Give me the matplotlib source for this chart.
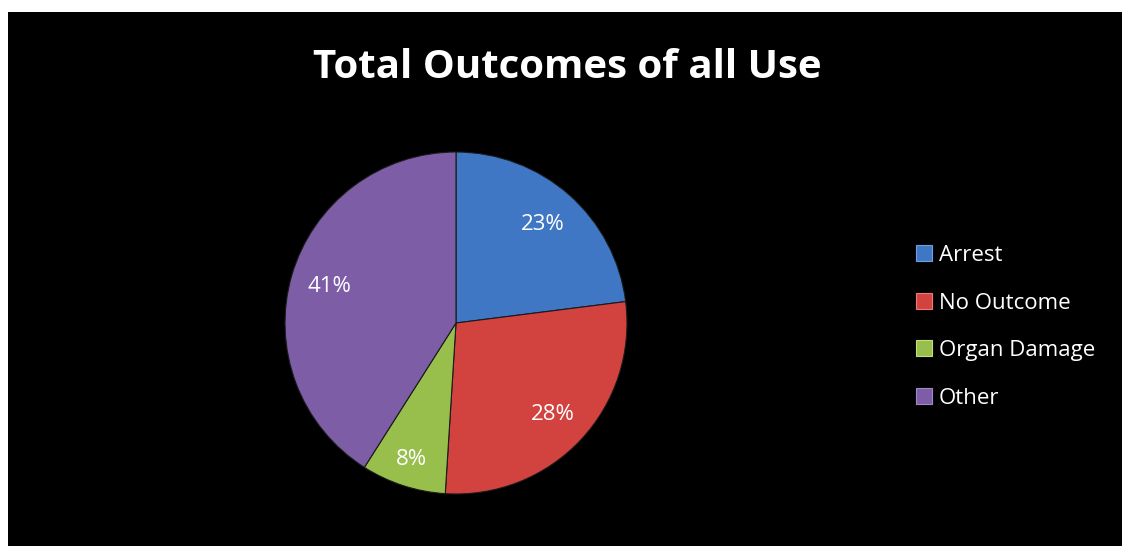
import matplotlib
matplotlib.use("Agg")
import numpy as np
import matplotlib.pyplot as plt
from matplotlib.lines import Line2D

categories = ["Arrest", "No Outcome", "Organ Damage", "Other"]
values = [23, 28, 8, 41]
colors = ["#3F77C4", "#D2433F", "#98BE4C", "#7C5DA6"]
edge_light = ["#6FA0E0", "#F07A74", "#C2E07E", "#A48AC8"]
label_dist = [0.77, 0.78, 0.84, 0.77]

W, H, DPI = 1122, 546, 100
fig = plt.figure(figsize=(W / DPI, H / DPI), dpi=DPI, facecolor="white")

# black chart area
bg = fig.add_axes([8 / W, 0, 1 - 8 / W, (H - 12) / H])
bg.set_facecolor("black")
bg.set_xticks([]); bg.set_yticks([])
for s in bg.spines.values():
    s.set_visible(False)

font = "Open Sans"
fig.text(567 / W, 1 - 67 / H, "Total Outcomes of all Use", color="white",
         fontsize=29, fontweight="bold", family=font, ha="center", va="center")

cx, cy, r = 456, 323, 171
ax = fig.add_axes([(cx - r) / W, (H - cy - r) / H, 2 * r / W, 2 * r / H])
ax.set_facecolor("none")
wedges, texts, autotexts = ax.pie(
    values, colors=colors, startangle=90, counterclock=False,
    autopct=lambda p: f"{p:.0f}%", pctdistance=0.78,
    wedgeprops=dict(edgecolor="#1a1a1a", linewidth=0.8),
    textprops=dict(color="white", fontsize=16, family=font))
for w, t, d in zip(wedges, autotexts, label_dist):
    ang = np.deg2rad((w.theta1 + w.theta2) / 2)
    t.set_position((d * np.cos(ang), d * np.sin(ang)))
ax.set_xlim(-1, 1)
ax.set_ylim(-1, 1)
ax.set_aspect("equal")

handles = [Line2D([0], [0], marker="s", linestyle="none", markersize=11,
                  markerfacecolor=c, markeredgecolor=lc, markeredgewidth=0.8)
           for c, lc in zip(colors, edge_light)]
leg = fig.legend(handles, categories, loc="upper left",
                 bbox_to_anchor=(902 / W, 1 - 236 / H), frameon=False,
                 labelcolor="white", prop=dict(family=font, size=16),
                 handletextpad=0.05, labelspacing=1.2, handlelength=1.2,
                 borderaxespad=0)

fig.savefig("out.png", dpi=DPI, facecolor="white")
